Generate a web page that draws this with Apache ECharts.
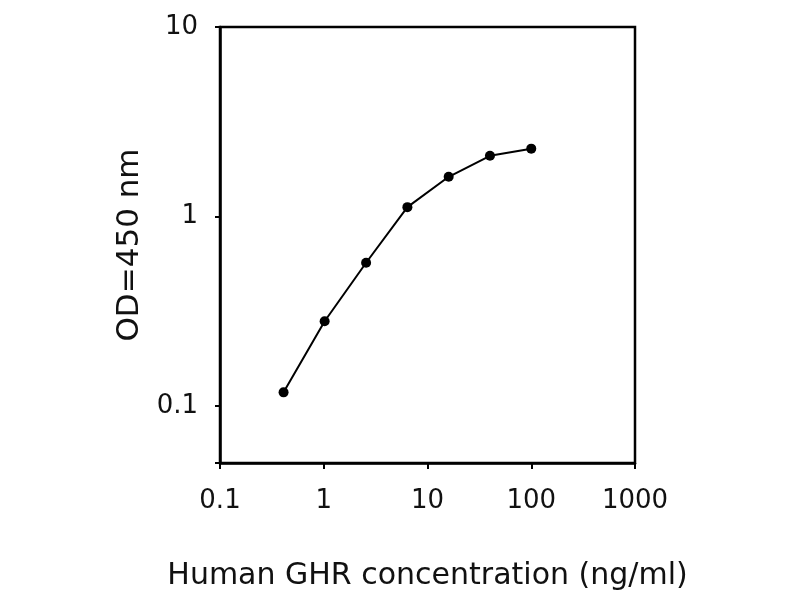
<!DOCTYPE html>
<html>
<head>
<meta charset="utf-8">
<title>GHR standard curve</title>
<script src="https://cdn.jsdelivr.net/npm/echarts@6/dist/echarts.min.js"></script>
<style>
  html, body { margin: 0; padding: 0; background: #fff; }
  #main { width: 800px; height: 600px; }
</style>
</head>
<body>
<div id="main"></div>
<script>
// 浓度 (ng/ml) 和 OD 读数
var concentration = [0.41, 1.02, 2.56, 6.4, 16, 40, 100];
var odValues = [0.118, 0.28, 0.57, 1.12, 1.62, 2.09, 2.28];

var xName = 'Human GHR concentration (ng/ml)';
var yName = 'OD=450 nm';

var points = concentration.map(function (c, i) {
    return [c, odValues[i]];
});

// 只显示 10 的整数次幂
function decadeLabel(v) {
    var l = Math.log10(v);
    if (Math.abs(l - Math.round(l)) > 1e-6) return '';
    return String(+v.toPrecision(6));
}

var font = 'DejaVu Sans';
var chart = echarts.init(document.getElementById('main'));
var option = {
    animation: false,
    backgroundColor: '#fff',
    grid: {
        left: 220, right: 165, top: 27, bottom: 137,
        show: true,
        borderColor: '#000',
        borderWidth: 2.5,
        backgroundColor: 'transparent'
    },
    xAxis: {
        type: 'log',
        logBase: 10,
        min: 0.1,
        max: 1000,
        name: xName,
        nameLocation: 'middle',
        nameGap: 98,
        nameTextStyle: { fontFamily: font, fontSize: 30, color: '#111' },
        axisLine: { lineStyle: { color: '#000', width: 2.5 } },
        axisTick: { show: true, inside: false, length: 6, lineStyle: { color: '#000', width: 2 } },
        minorTick: { show: false },
        splitLine: { show: false },
        axisLabel: {
            margin: 25,
            fontFamily: font,
            fontSize: 26,
            color: '#111',
            formatter: decadeLabel
        }
    },
    yAxis: {
        type: 'log',
        logBase: 10,
        min: 0.05,
        max: 10,
        name: yName,
        nameLocation: 'middle',
        nameGap: 74,
        nameTextStyle: { fontFamily: font, fontSize: 31, color: '#111' },
        axisLine: { lineStyle: { color: '#000', width: 2.5 } },
        axisTick: { show: true, inside: false, length: 5, lineStyle: { color: '#000', width: 2 } },
        minorTick: { show: false },
        splitLine: { show: false },
        axisLabel: {
            margin: 22,
            fontFamily: font,
            fontSize: 26,
            color: '#111',
            formatter: decadeLabel
        }
    },
    series: [{
        type: 'line',
        data: points,
        symbol: 'circle',
        symbolSize: 10,
        itemStyle: { color: '#000' },
        lineStyle: { color: '#000', width: 2 }
    }]
};
chart.setOption(option);
</script>
</body>
</html>
